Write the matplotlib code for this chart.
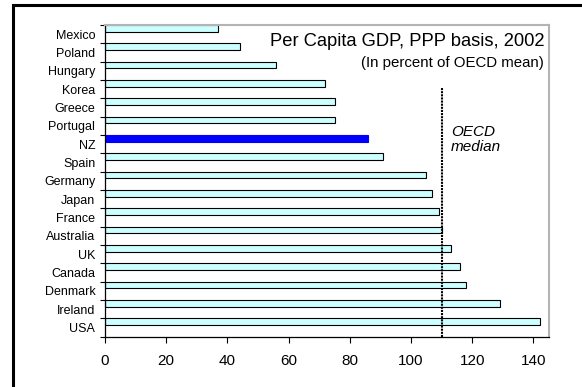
import matplotlib
matplotlib.use("Agg")
import matplotlib.pyplot as plt
from matplotlib.lines import Line2D

plt.rcParams["font.family"] = ["Liberation Sans", "DejaVu Sans"]

countries = ["Mexico", "Poland", "Hungary", "Korea", "Greece", "Portugal", "NZ",
             "Spain", "Germany", "Japan", "France", "Australia", "UK", "Canada",
             "Denmark", "Ireland", "USA"]
gdp_pct = [37, 44, 56, 72, 75, 75, 86, 91, 105, 107, 109, 110, 113, 116, 118, 129, 142]
oecd_median = 110
highlight = "NZ"

fig = plt.figure(figsize=(5.82, 3.87), dpi=100)
ax = fig.add_axes([0.1804, 0.130, 0.7624, 0.8056])

# bars sit in the top part of each category slot
slots = [i - 0.5 for i in range(len(countries))]
colors = ["#0000FF" if c == highlight else "#CCFFFF" for c in countries]
edges = ["#0000FF" if c == highlight else "black" for c in countries]
ax.barh(slots, gdp_pct, height=0.36, align="edge", color=colors,
        edgecolor=edges, linewidth=0.8)

ax.set_xlim(0, 145)
ax.set_ylim(len(countries) - 0.5, -0.5)

ax.set_xticks(range(0, 141, 20))
ax.set_yticks(range(len(countries)))
ax.set_yticklabels(countries)
ax.set_yticks([i - 0.5 for i in range(len(countries) + 1)], minor=True)
ax.tick_params(axis="y", which="major", length=0, pad=7, labelsize=9)
ax.tick_params(axis="y", which="minor", length=3.5, width=0.8, direction="out")
ax.tick_params(axis="x", length=4.5, width=0.8, pad=8, labelsize=11)

for side in ["left", "bottom"]:
    ax.spines[side].set_color("black")
    ax.spines[side].set_linewidth(0.9)
for side in ["top", "right"]:
    ax.spines[side].set_color("#B4B4B4")
    ax.spines[side].set_linewidth(1.5)

# OECD median marker
ax.axvline(oecd_median, ymin=0, ymax=0.798, color="black",
           linestyle=(0, (1, 0.5)), linewidth=1.5)
ax.text(113, 5.55, "OECD", style="italic", fontsize=11, va="baseline")
ax.text(113, 6.4, "median", style="italic", fontsize=11, va="baseline")

ax.text(0.99, 0.9326, "Per Capita GDP, PPP basis, 2002", transform=ax.transAxes,
        ha="right", va="baseline", fontsize=13.2)
ax.text(0.99, 0.866, "(In percent of OECD mean)", transform=ax.transAxes,
        ha="right", va="baseline", fontsize=10.8)

# outer frame
fig.add_artist(Line2D([0.0223, 0.0223], [0, 0.987], color="black", linewidth=2.2,
                      transform=fig.transFigure))
fig.add_artist(Line2D([0.0223, 1], [0.987, 0.987], color="black", linewidth=2.2,
                      transform=fig.transFigure))

fig.savefig("out.png", dpi=100)
